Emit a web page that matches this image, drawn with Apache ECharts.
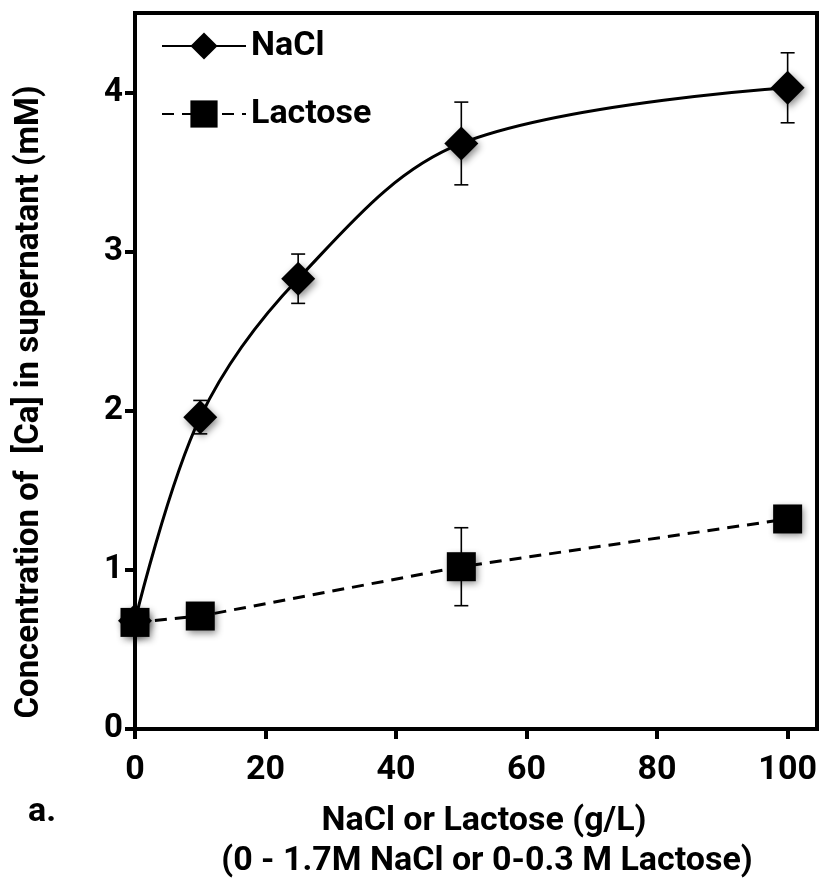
<!DOCTYPE html>
<html>
<head>
<meta charset="utf-8">
<script src="https://cdn.jsdelivr.net/npm/echarts@6/dist/echarts.min.js"></script>
<style>
  html, body { margin: 0; padding: 0; background: #ffffff; }
  #chart { width: 823px; height: 885px; }
</style>
</head>
<body>
<div id="chart"></div>
<script>
// Concentration values (mM) with standard deviations
const naclX = [0, 10, 25, 50, 100];
const naclMean = [0.68, 1.96, 2.83, 3.68, 4.03];
const naclErr = [0.05, 0.105, 0.155, 0.26, 0.22];

const lactoseX = [0, 10, 50, 100];
const lactoseMean = [0.67, 0.71, 1.02, 1.32];
const lactoseErr = [0.05, 0.04, 0.245, 0.07];

const xTicks = [0, 20, 40, 60, 80, 100];
const yTicks = [0, 1, 2, 3, 4];

const FONT = "'Liberation Sans Narrow', 'Arial Narrow', 'Roboto', sans-serif";

const pairs = (xs, ys) => xs.map((x, i) => [x, ys[i]]);
const errRows = (xs, ys, es) => xs.map((x, i) => [x, ys[i] - es[i], ys[i] + es[i]]);

function errorBar(params, api) {
  const x = api.value(0);
  const lo = api.coord([x, api.value(1)]);
  const hi = api.coord([x, api.value(2)]);
  const cap = 7;
  const style = { stroke: '#000', lineWidth: 1.6 };
  return {
    type: 'group',
    children: [
      { type: 'line', shape: { x1: lo[0], y1: lo[1], x2: hi[0], y2: hi[1] }, style },
      { type: 'line', shape: { x1: lo[0] - cap, y1: lo[1], x2: lo[0] + cap, y2: lo[1] }, style },
      { type: 'line', shape: { x1: hi[0] - cap, y1: hi[1], x2: hi[0] + cap, y2: hi[1] }, style }
    ]
  };
}

const markerShadow = {
  color: '#000',
  shadowBlur: 7,
  shadowColor: 'rgba(0,0,0,0.45)',
  shadowOffsetX: 2,
  shadowOffsetY: 3
};

const chart = echarts.init(document.getElementById('chart'), null, { renderer: 'canvas' });

chart.setOption({
  animation: false,
  backgroundColor: '#ffffff',
  grid: {
    left: 135, top: 13, right: 6, bottom: 156,
    show: true, borderColor: '#000', borderWidth: 4, backgroundColor: 'transparent'
  },
  legend: {
    orient: 'vertical',
    left: 156,
    top: 24,
    itemWidth: 84,
    itemHeight: 34,
    itemGap: 34,
    textStyle: { fontFamily: FONT, fontSize: 34, fontWeight: 'bold', color: '#000', padding: [0, 0, 0, 0] },
    data: ['NaCl', 'Lactose']
  },
  xAxis: {
    type: 'value',
    min: 0,
    max: 104.5,
    interval: 20,
    axisLine: { show: true, lineStyle: { color: '#000', width: 4 } },
    axisTick: { show: true, inside: false, length: 10, lineStyle: { color: '#000', width: 4 } },
    axisLabel: {
      margin: 24,
      fontFamily: FONT, fontSize: 34, fontWeight: 'bold', color: '#000',
      showMaxLabel: false,
      formatter: v => (xTicks.includes(v) ? String(v) : '')
    },
    splitLine: { show: false }
  },
  yAxis: {
    type: 'value',
    min: 0,
    max: 4.5,
    interval: 1,
    axisLine: { show: true, lineStyle: { color: '#000', width: 4 } },
    axisTick: { show: true, inside: false, length: 10, lineStyle: { color: '#000', width: 4 } },
    axisLabel: {
      margin: 12,
      fontFamily: FONT, fontSize: 33, fontWeight: 'bold', color: '#000',
      showMaxLabel: false,
      formatter: v => (yTicks.includes(v) ? String(v) : '')
    },
    splitLine: { show: false }
  },
  series: [
    {
      name: 'NaCl-err',
      type: 'custom',
      renderItem: errorBar,
      encode: { x: 0, y: [1, 2] },
      data: errRows(naclX, naclMean, naclErr),
      z: 1,
      silent: true
    },
    {
      name: 'Lactose-err',
      type: 'custom',
      renderItem: errorBar,
      encode: { x: 0, y: [1, 2] },
      data: errRows(lactoseX, lactoseMean, lactoseErr),
      z: 1,
      silent: true
    },
    {
      name: 'Lactose',
      type: 'line',
      data: pairs(lactoseX, lactoseMean),
      symbol: 'rect',
      symbolSize: 29,
      smooth: false,
      lineStyle: { color: '#000', width: 3, type: [12, 8] },
      itemStyle: markerShadow,
      z: 3
    },
    {
      name: 'NaCl',
      type: 'line',
      data: pairs(naclX, naclMean),
      symbol: 'diamond',
      symbolSize: 34,
      smooth: 0.35,
      lineStyle: { color: '#000', width: 3 },
      itemStyle: markerShadow,
      z: 2
    }
  ],
  graphic: [
    {
      type: 'text',
      x: 30, y: 402,
      rotation: Math.PI / 2,
      style: {
        text: 'Concentration of  [Ca] in supernatant (mM)',
        font: "bold 33px " + FONT,
        fill: '#000',
        textAlign: 'center',
        textVerticalAlign: 'middle'
      }
    },
    {
      type: 'text',
      x: 484, y: 821,
      style: {
        text: 'NaCl or Lactose (g/L)',
        font: "bold 34px " + FONT,
        fill: '#000',
        textAlign: 'center',
        textVerticalAlign: 'middle'
      }
    },
    {
      type: 'text',
      x: 487, y: 861,
      style: {
        text: '(0 - 1.7M NaCl or 0-0.3 M Lactose)',
        font: "bold 34px " + FONT,
        fill: '#000',
        textAlign: 'center',
        textVerticalAlign: 'middle'
      }
    },
    {
      type: 'text',
      x: 42, y: 812,
      style: {
        text: 'a.',
        font: "bold 34px " + FONT,
        fill: '#000',
        textAlign: 'center',
        textVerticalAlign: 'middle'
      }
    }
  ]
});
</script>
</body>
</html>
